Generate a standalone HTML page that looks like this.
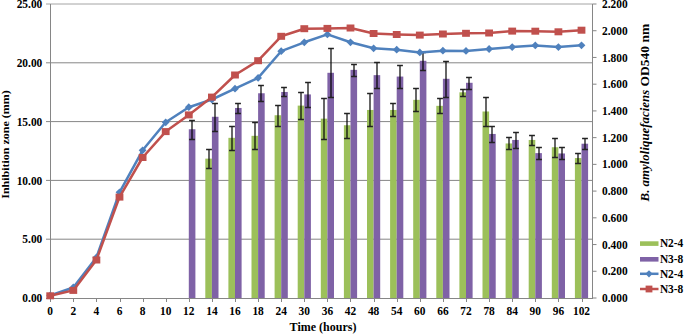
<!DOCTYPE html><html><head><meta charset="utf-8"><style>html,body{margin:0;padding:0;background:#fff;}svg{display:block;}text{font-family:"Liberation Serif",serif;font-weight:bold;fill:#000;}</style></head><body>
<svg width="685" height="334" viewBox="0 0 685 334">
<rect width="685" height="334" fill="#fff"/>
<line x1="46" y1="239.20" x2="592.5" y2="239.20" stroke="#868686" stroke-width="1"/>
<line x1="46" y1="180.40" x2="592.5" y2="180.40" stroke="#868686" stroke-width="1"/>
<line x1="46" y1="121.60" x2="592.5" y2="121.60" stroke="#868686" stroke-width="1"/>
<line x1="46" y1="62.80" x2="592.5" y2="62.80" stroke="#868686" stroke-width="1"/>
<line x1="46" y1="4.00" x2="592.5" y2="4.00" stroke="#a4a4a4" stroke-width="1"/>
<line x1="46" y1="298.50" x2="50.5" y2="298.50" stroke="#868686" stroke-width="1"/>
<rect x="188.80" y="129.24" width="6.6" height="168.76" fill="#7F62A6"/>
<rect x="205.30" y="158.64" width="6.6" height="139.36" fill="#9CC05A"/>
<rect x="211.90" y="116.78" width="6.6" height="181.22" fill="#7F62A6"/>
<rect x="228.40" y="137.83" width="6.6" height="160.17" fill="#9CC05A"/>
<rect x="235.00" y="107.96" width="6.6" height="190.04" fill="#7F62A6"/>
<rect x="251.50" y="135.83" width="6.6" height="162.17" fill="#9CC05A"/>
<rect x="258.10" y="93.26" width="6.6" height="204.74" fill="#7F62A6"/>
<rect x="274.60" y="115.25" width="6.6" height="182.75" fill="#9CC05A"/>
<rect x="281.20" y="91.96" width="6.6" height="206.04" fill="#7F62A6"/>
<rect x="297.70" y="105.61" width="6.6" height="192.39" fill="#9CC05A"/>
<rect x="304.30" y="94.43" width="6.6" height="203.57" fill="#7F62A6"/>
<rect x="320.80" y="118.66" width="6.6" height="179.34" fill="#9CC05A"/>
<rect x="327.40" y="72.80" width="6.6" height="225.20" fill="#7F62A6"/>
<rect x="343.90" y="125.25" width="6.6" height="172.75" fill="#9CC05A"/>
<rect x="350.50" y="69.86" width="6.6" height="228.14" fill="#7F62A6"/>
<rect x="367.00" y="109.96" width="6.6" height="188.04" fill="#9CC05A"/>
<rect x="373.60" y="75.15" width="6.6" height="222.85" fill="#7F62A6"/>
<rect x="390.10" y="109.96" width="6.6" height="188.04" fill="#9CC05A"/>
<rect x="396.70" y="76.56" width="6.6" height="221.44" fill="#7F62A6"/>
<rect x="413.20" y="99.84" width="6.6" height="198.16" fill="#9CC05A"/>
<rect x="419.80" y="60.80" width="6.6" height="237.20" fill="#7F62A6"/>
<rect x="436.30" y="105.84" width="6.6" height="192.16" fill="#9CC05A"/>
<rect x="442.90" y="78.79" width="6.6" height="219.21" fill="#7F62A6"/>
<rect x="459.40" y="92.32" width="6.6" height="205.68" fill="#9CC05A"/>
<rect x="466.00" y="82.79" width="6.6" height="215.21" fill="#7F62A6"/>
<rect x="482.50" y="111.49" width="6.6" height="186.51" fill="#9CC05A"/>
<rect x="489.10" y="133.95" width="6.6" height="164.05" fill="#7F62A6"/>
<rect x="505.60" y="143.47" width="6.6" height="154.53" fill="#9CC05A"/>
<rect x="512.20" y="139.95" width="6.6" height="158.05" fill="#7F62A6"/>
<rect x="528.70" y="139.95" width="6.6" height="158.05" fill="#9CC05A"/>
<rect x="535.30" y="153.12" width="6.6" height="144.88" fill="#7F62A6"/>
<rect x="551.80" y="147.24" width="6.6" height="150.76" fill="#9CC05A"/>
<rect x="558.40" y="153.47" width="6.6" height="144.53" fill="#7F62A6"/>
<rect x="574.90" y="158.06" width="6.6" height="139.94" fill="#9CC05A"/>
<rect x="581.50" y="143.71" width="6.6" height="154.29" fill="#7F62A6"/>
<path d="M192 120.50V139.50" stroke="#000" stroke-width="1.2" fill="none"/>
<path d="M189.10 120.50H194.90M189.10 139.50H194.90" stroke="#222" stroke-width="1.3" fill="none"/>
<path d="M209 149.50V168.50" stroke="#000" stroke-width="1.2" fill="none"/>
<path d="M206.10 149.50H211.90M206.10 168.50H211.90" stroke="#222" stroke-width="1.3" fill="none"/>
<path d="M215 103.50V131.50" stroke="#000" stroke-width="1.2" fill="none"/>
<path d="M212.10 103.50H217.90M212.10 131.50H217.90" stroke="#222" stroke-width="1.3" fill="none"/>
<path d="M232 126.50V150.50" stroke="#000" stroke-width="1.2" fill="none"/>
<path d="M229.10 126.50H234.90M229.10 150.50H234.90" stroke="#222" stroke-width="1.3" fill="none"/>
<path d="M238 103.50V113.50" stroke="#000" stroke-width="1.2" fill="none"/>
<path d="M235.10 103.50H240.90M235.10 113.50H240.90" stroke="#222" stroke-width="1.3" fill="none"/>
<path d="M255 122.50V149.50" stroke="#000" stroke-width="1.2" fill="none"/>
<path d="M252.10 122.50H257.90M252.10 149.50H257.90" stroke="#222" stroke-width="1.3" fill="none"/>
<path d="M261 85.50V101.50" stroke="#000" stroke-width="1.2" fill="none"/>
<path d="M258.10 85.50H263.90M258.10 101.50H263.90" stroke="#222" stroke-width="1.3" fill="none"/>
<path d="M278 105.50V126.50" stroke="#000" stroke-width="1.2" fill="none"/>
<path d="M275.10 105.50H280.90M275.10 126.50H280.90" stroke="#222" stroke-width="1.3" fill="none"/>
<path d="M284 87.50V96.50" stroke="#000" stroke-width="1.2" fill="none"/>
<path d="M281.10 87.50H286.90M281.10 96.50H286.90" stroke="#222" stroke-width="1.3" fill="none"/>
<path d="M301 92.50V119.50" stroke="#000" stroke-width="1.2" fill="none"/>
<path d="M298.10 92.50H303.90M298.10 119.50H303.90" stroke="#222" stroke-width="1.3" fill="none"/>
<path d="M308 82.50V107.50" stroke="#000" stroke-width="1.2" fill="none"/>
<path d="M305.10 82.50H310.90M305.10 107.50H310.90" stroke="#222" stroke-width="1.3" fill="none"/>
<path d="M324 98.50V139.50" stroke="#000" stroke-width="1.2" fill="none"/>
<path d="M321.10 98.50H326.90M321.10 139.50H326.90" stroke="#222" stroke-width="1.3" fill="none"/>
<path d="M331 48.50V97.50" stroke="#000" stroke-width="1.2" fill="none"/>
<path d="M328.10 48.50H333.90M328.10 97.50H333.90" stroke="#222" stroke-width="1.3" fill="none"/>
<path d="M347 113.50V138.50" stroke="#000" stroke-width="1.2" fill="none"/>
<path d="M344.10 113.50H349.90M344.10 138.50H349.90" stroke="#222" stroke-width="1.3" fill="none"/>
<path d="M354 64.50V76.50" stroke="#000" stroke-width="1.2" fill="none"/>
<path d="M351.10 64.50H356.90M351.10 76.50H356.90" stroke="#222" stroke-width="1.3" fill="none"/>
<path d="M370 93.50V126.50" stroke="#000" stroke-width="1.2" fill="none"/>
<path d="M367.10 93.50H372.90M367.10 126.50H372.90" stroke="#222" stroke-width="1.3" fill="none"/>
<path d="M377 62.50V88.50" stroke="#000" stroke-width="1.2" fill="none"/>
<path d="M374.10 62.50H379.90M374.10 88.50H379.90" stroke="#222" stroke-width="1.3" fill="none"/>
<path d="M393 103.50V116.50" stroke="#000" stroke-width="1.2" fill="none"/>
<path d="M390.10 103.50H395.90M390.10 116.50H395.90" stroke="#222" stroke-width="1.3" fill="none"/>
<path d="M400 65.50V88.50" stroke="#000" stroke-width="1.2" fill="none"/>
<path d="M397.10 65.50H402.90M397.10 88.50H402.90" stroke="#222" stroke-width="1.3" fill="none"/>
<path d="M416 88.50V111.50" stroke="#000" stroke-width="1.2" fill="none"/>
<path d="M413.10 88.50H418.90M413.10 111.50H418.90" stroke="#222" stroke-width="1.3" fill="none"/>
<path d="M423 52.50V70.50" stroke="#000" stroke-width="1.2" fill="none"/>
<path d="M420.10 52.50H425.90M420.10 70.50H425.90" stroke="#222" stroke-width="1.3" fill="none"/>
<path d="M440 98.50V113.50" stroke="#000" stroke-width="1.2" fill="none"/>
<path d="M437.10 98.50H442.90M437.10 113.50H442.90" stroke="#222" stroke-width="1.3" fill="none"/>
<path d="M446 61.50V97.50" stroke="#000" stroke-width="1.2" fill="none"/>
<path d="M443.10 61.50H448.90M443.10 97.50H448.90" stroke="#222" stroke-width="1.3" fill="none"/>
<path d="M463 89.50V96.50" stroke="#000" stroke-width="1.2" fill="none"/>
<path d="M460.10 89.50H465.90M460.10 96.50H465.90" stroke="#222" stroke-width="1.3" fill="none"/>
<path d="M469 77.50V89.50" stroke="#000" stroke-width="1.2" fill="none"/>
<path d="M466.10 77.50H471.90M466.10 89.50H471.90" stroke="#222" stroke-width="1.3" fill="none"/>
<path d="M486 97.50V126.50" stroke="#000" stroke-width="1.2" fill="none"/>
<path d="M483.10 97.50H488.90M483.10 126.50H488.90" stroke="#222" stroke-width="1.3" fill="none"/>
<path d="M492 126.50V142.50" stroke="#000" stroke-width="1.2" fill="none"/>
<path d="M489.10 126.50H494.90M489.10 142.50H494.90" stroke="#222" stroke-width="1.3" fill="none"/>
<path d="M509 137.50V149.50" stroke="#000" stroke-width="1.2" fill="none"/>
<path d="M506.10 137.50H511.90M506.10 149.50H511.90" stroke="#222" stroke-width="1.3" fill="none"/>
<path d="M516 132.50V148.50" stroke="#000" stroke-width="1.2" fill="none"/>
<path d="M513.10 132.50H518.90M513.10 148.50H518.90" stroke="#222" stroke-width="1.3" fill="none"/>
<path d="M532 135.50V145.50" stroke="#000" stroke-width="1.2" fill="none"/>
<path d="M529.10 135.50H534.90M529.10 145.50H534.90" stroke="#222" stroke-width="1.3" fill="none"/>
<path d="M539 147.50V159.50" stroke="#000" stroke-width="1.2" fill="none"/>
<path d="M536.10 147.50H541.90M536.10 159.50H541.90" stroke="#222" stroke-width="1.3" fill="none"/>
<path d="M555 138.50V157.50" stroke="#000" stroke-width="1.2" fill="none"/>
<path d="M552.10 138.50H557.90M552.10 157.50H557.90" stroke="#222" stroke-width="1.3" fill="none"/>
<path d="M562 147.50V159.50" stroke="#000" stroke-width="1.2" fill="none"/>
<path d="M559.10 147.50H564.90M559.10 159.50H564.90" stroke="#222" stroke-width="1.3" fill="none"/>
<path d="M578 153.50V163.50" stroke="#000" stroke-width="1.2" fill="none"/>
<path d="M575.10 153.50H580.90M575.10 163.50H580.90" stroke="#222" stroke-width="1.3" fill="none"/>
<path d="M585 138.50V149.50" stroke="#000" stroke-width="1.2" fill="none"/>
<path d="M582.10 138.50H587.90M582.10 149.50H587.90" stroke="#222" stroke-width="1.3" fill="none"/>
<line x1="50.5" y1="4.0" x2="50.5" y2="299.0" stroke="#868686" stroke-width="1"/>
<line x1="592.5" y1="4.0" x2="592.5" y2="299.0" stroke="#868686" stroke-width="1"/>
<line x1="50.0" y1="298.5" x2="593.0" y2="298.5" stroke="#868686" stroke-width="1"/>
<line x1="50.50" y1="298.5" x2="50.50" y2="302.0" stroke="#868686" stroke-width="1"/>
<line x1="73.50" y1="298.5" x2="73.50" y2="302.0" stroke="#868686" stroke-width="1"/>
<line x1="96.50" y1="298.5" x2="96.50" y2="302.0" stroke="#868686" stroke-width="1"/>
<line x1="120.50" y1="298.5" x2="120.50" y2="302.0" stroke="#868686" stroke-width="1"/>
<line x1="143.50" y1="298.5" x2="143.50" y2="302.0" stroke="#868686" stroke-width="1"/>
<line x1="166.50" y1="298.5" x2="166.50" y2="302.0" stroke="#868686" stroke-width="1"/>
<line x1="189.50" y1="298.5" x2="189.50" y2="302.0" stroke="#868686" stroke-width="1"/>
<line x1="212.50" y1="298.5" x2="212.50" y2="302.0" stroke="#868686" stroke-width="1"/>
<line x1="235.50" y1="298.5" x2="235.50" y2="302.0" stroke="#868686" stroke-width="1"/>
<line x1="258.50" y1="298.5" x2="258.50" y2="302.0" stroke="#868686" stroke-width="1"/>
<line x1="281.50" y1="298.5" x2="281.50" y2="302.0" stroke="#868686" stroke-width="1"/>
<line x1="304.50" y1="298.5" x2="304.50" y2="302.0" stroke="#868686" stroke-width="1"/>
<line x1="327.50" y1="298.5" x2="327.50" y2="302.0" stroke="#868686" stroke-width="1"/>
<line x1="350.50" y1="298.5" x2="350.50" y2="302.0" stroke="#868686" stroke-width="1"/>
<line x1="374.50" y1="298.5" x2="374.50" y2="302.0" stroke="#868686" stroke-width="1"/>
<line x1="397.50" y1="298.5" x2="397.50" y2="302.0" stroke="#868686" stroke-width="1"/>
<line x1="420.50" y1="298.5" x2="420.50" y2="302.0" stroke="#868686" stroke-width="1"/>
<line x1="443.50" y1="298.5" x2="443.50" y2="302.0" stroke="#868686" stroke-width="1"/>
<line x1="466.50" y1="298.5" x2="466.50" y2="302.0" stroke="#868686" stroke-width="1"/>
<line x1="489.50" y1="298.5" x2="489.50" y2="302.0" stroke="#868686" stroke-width="1"/>
<line x1="512.50" y1="298.5" x2="512.50" y2="302.0" stroke="#868686" stroke-width="1"/>
<line x1="535.50" y1="298.5" x2="535.50" y2="302.0" stroke="#868686" stroke-width="1"/>
<line x1="558.50" y1="298.5" x2="558.50" y2="302.0" stroke="#868686" stroke-width="1"/>
<line x1="582.50" y1="298.5" x2="582.50" y2="302.0" stroke="#868686" stroke-width="1"/>
<line x1="592.5" y1="298.00" x2="596.5" y2="298.00" stroke="#868686" stroke-width="1"/>
<line x1="592.5" y1="271.27" x2="596.5" y2="271.27" stroke="#868686" stroke-width="1"/>
<line x1="592.5" y1="244.55" x2="596.5" y2="244.55" stroke="#868686" stroke-width="1"/>
<line x1="592.5" y1="217.82" x2="596.5" y2="217.82" stroke="#868686" stroke-width="1"/>
<line x1="592.5" y1="191.09" x2="596.5" y2="191.09" stroke="#868686" stroke-width="1"/>
<line x1="592.5" y1="164.36" x2="596.5" y2="164.36" stroke="#868686" stroke-width="1"/>
<line x1="592.5" y1="137.64" x2="596.5" y2="137.64" stroke="#868686" stroke-width="1"/>
<line x1="592.5" y1="110.91" x2="596.5" y2="110.91" stroke="#868686" stroke-width="1"/>
<line x1="592.5" y1="84.18" x2="596.5" y2="84.18" stroke="#868686" stroke-width="1"/>
<line x1="592.5" y1="57.45" x2="596.5" y2="57.45" stroke="#868686" stroke-width="1"/>
<line x1="592.5" y1="30.73" x2="596.5" y2="30.73" stroke="#868686" stroke-width="1"/>
<line x1="592.5" y1="4.00" x2="596.5" y2="4.00" stroke="#868686" stroke-width="1"/>
<polyline points="50.20,295.50 73.30,287.50 96.40,257.50 119.50,192.30 142.60,150.30 165.70,122.30 188.80,107.20 211.90,99.50 235.00,88.70 258.10,77.90 281.20,51.20 304.30,42.30 327.40,34.40 350.50,42.30 373.60,48.30 396.70,49.70 419.80,52.40 442.90,50.70 466.00,50.90 489.10,49.00 512.20,47.10 535.30,45.40 558.40,47.10 581.50,45.30" fill="none" stroke="#4F81BD" stroke-width="2.5" stroke-linejoin="round"/>
<path d="M50.20 291.60L54.10 295.50L50.20 299.40L46.30 295.50Z" fill="#4F81BD"/>
<path d="M73.30 283.60L77.20 287.50L73.30 291.40L69.40 287.50Z" fill="#4F81BD"/>
<path d="M96.40 253.60L100.30 257.50L96.40 261.40L92.50 257.50Z" fill="#4F81BD"/>
<path d="M119.50 188.40L123.40 192.30L119.50 196.20L115.60 192.30Z" fill="#4F81BD"/>
<path d="M142.60 146.40L146.50 150.30L142.60 154.20L138.70 150.30Z" fill="#4F81BD"/>
<path d="M165.70 118.40L169.60 122.30L165.70 126.20L161.80 122.30Z" fill="#4F81BD"/>
<path d="M188.80 103.30L192.70 107.20L188.80 111.10L184.90 107.20Z" fill="#4F81BD"/>
<path d="M211.90 95.60L215.80 99.50L211.90 103.40L208.00 99.50Z" fill="#4F81BD"/>
<path d="M235.00 84.80L238.90 88.70L235.00 92.60L231.10 88.70Z" fill="#4F81BD"/>
<path d="M258.10 74.00L262.00 77.90L258.10 81.80L254.20 77.90Z" fill="#4F81BD"/>
<path d="M281.20 47.30L285.10 51.20L281.20 55.10L277.30 51.20Z" fill="#4F81BD"/>
<path d="M304.30 38.40L308.20 42.30L304.30 46.20L300.40 42.30Z" fill="#4F81BD"/>
<path d="M327.40 30.50L331.30 34.40L327.40 38.30L323.50 34.40Z" fill="#4F81BD"/>
<path d="M350.50 38.40L354.40 42.30L350.50 46.20L346.60 42.30Z" fill="#4F81BD"/>
<path d="M373.60 44.40L377.50 48.30L373.60 52.20L369.70 48.30Z" fill="#4F81BD"/>
<path d="M396.70 45.80L400.60 49.70L396.70 53.60L392.80 49.70Z" fill="#4F81BD"/>
<path d="M419.80 48.50L423.70 52.40L419.80 56.30L415.90 52.40Z" fill="#4F81BD"/>
<path d="M442.90 46.80L446.80 50.70L442.90 54.60L439.00 50.70Z" fill="#4F81BD"/>
<path d="M466.00 47.00L469.90 50.90L466.00 54.80L462.10 50.90Z" fill="#4F81BD"/>
<path d="M489.10 45.10L493.00 49.00L489.10 52.90L485.20 49.00Z" fill="#4F81BD"/>
<path d="M512.20 43.20L516.10 47.10L512.20 51.00L508.30 47.10Z" fill="#4F81BD"/>
<path d="M535.30 41.50L539.20 45.40L535.30 49.30L531.40 45.40Z" fill="#4F81BD"/>
<path d="M558.40 43.20L562.30 47.10L558.40 51.00L554.50 47.10Z" fill="#4F81BD"/>
<path d="M581.50 41.40L585.40 45.30L581.50 49.20L577.60 45.30Z" fill="#4F81BD"/>
<polyline points="50.20,295.80 73.30,290.40 96.40,260.00 119.50,197.10 142.60,157.50 165.70,131.60 188.80,114.90 211.90,97.10 235.00,75.00 258.10,60.70 281.20,36.30 304.30,28.70 327.40,28.40 350.50,28.00 373.60,33.50 396.70,34.50 419.80,35.10 442.90,34.00 466.00,33.30 489.10,33.00 512.20,31.10 535.30,31.20 558.40,31.80 581.50,30.20" fill="none" stroke="#C0504D" stroke-width="2.5" stroke-linejoin="round"/>
<rect x="46.30" y="292.30" width="7.8" height="7.0" fill="#C0504D"/>
<rect x="69.40" y="286.90" width="7.8" height="7.0" fill="#C0504D"/>
<rect x="92.50" y="256.50" width="7.8" height="7.0" fill="#C0504D"/>
<rect x="115.60" y="193.60" width="7.8" height="7.0" fill="#C0504D"/>
<rect x="138.70" y="154.00" width="7.8" height="7.0" fill="#C0504D"/>
<rect x="161.80" y="128.10" width="7.8" height="7.0" fill="#C0504D"/>
<rect x="184.90" y="111.40" width="7.8" height="7.0" fill="#C0504D"/>
<rect x="208.00" y="93.60" width="7.8" height="7.0" fill="#C0504D"/>
<rect x="231.10" y="71.50" width="7.8" height="7.0" fill="#C0504D"/>
<rect x="254.20" y="57.20" width="7.8" height="7.0" fill="#C0504D"/>
<rect x="277.30" y="32.80" width="7.8" height="7.0" fill="#C0504D"/>
<rect x="300.40" y="25.20" width="7.8" height="7.0" fill="#C0504D"/>
<rect x="323.50" y="24.90" width="7.8" height="7.0" fill="#C0504D"/>
<rect x="346.60" y="24.50" width="7.8" height="7.0" fill="#C0504D"/>
<rect x="369.70" y="30.00" width="7.8" height="7.0" fill="#C0504D"/>
<rect x="392.80" y="31.00" width="7.8" height="7.0" fill="#C0504D"/>
<rect x="415.90" y="31.60" width="7.8" height="7.0" fill="#C0504D"/>
<rect x="439.00" y="30.50" width="7.8" height="7.0" fill="#C0504D"/>
<rect x="462.10" y="29.80" width="7.8" height="7.0" fill="#C0504D"/>
<rect x="485.20" y="29.50" width="7.8" height="7.0" fill="#C0504D"/>
<rect x="508.30" y="27.60" width="7.8" height="7.0" fill="#C0504D"/>
<rect x="531.40" y="27.70" width="7.8" height="7.0" fill="#C0504D"/>
<rect x="554.50" y="28.30" width="7.8" height="7.0" fill="#C0504D"/>
<rect x="577.60" y="26.70" width="7.8" height="7.0" fill="#C0504D"/>
<text x="22.35" y="302.10" font-size="12" textLength="19.95" lengthAdjust="spacingAndGlyphs">0.00</text>
<text x="22.35" y="243.30" font-size="12" textLength="19.95" lengthAdjust="spacingAndGlyphs">5.00</text>
<text x="16.65" y="184.50" font-size="12" textLength="25.65" lengthAdjust="spacingAndGlyphs">10.00</text>
<text x="16.65" y="125.70" font-size="12" textLength="25.65" lengthAdjust="spacingAndGlyphs">15.00</text>
<text x="16.65" y="66.90" font-size="12" textLength="25.65" lengthAdjust="spacingAndGlyphs">20.00</text>
<text x="16.65" y="8.10" font-size="12" textLength="25.65" lengthAdjust="spacingAndGlyphs">25.00</text>
<text x="602" y="302.10" font-size="12" textLength="25.65" lengthAdjust="spacingAndGlyphs">0.000</text>
<text x="602" y="275.37" font-size="12" textLength="25.65" lengthAdjust="spacingAndGlyphs">0.200</text>
<text x="602" y="248.65" font-size="12" textLength="25.65" lengthAdjust="spacingAndGlyphs">0.400</text>
<text x="602" y="221.92" font-size="12" textLength="25.65" lengthAdjust="spacingAndGlyphs">0.600</text>
<text x="602" y="195.19" font-size="12" textLength="25.65" lengthAdjust="spacingAndGlyphs">0.800</text>
<text x="602" y="168.46" font-size="12" textLength="25.65" lengthAdjust="spacingAndGlyphs">1.000</text>
<text x="602" y="141.74" font-size="12" textLength="25.65" lengthAdjust="spacingAndGlyphs">1.200</text>
<text x="602" y="115.01" font-size="12" textLength="25.65" lengthAdjust="spacingAndGlyphs">1.400</text>
<text x="602" y="88.28" font-size="12" textLength="25.65" lengthAdjust="spacingAndGlyphs">1.600</text>
<text x="602" y="61.55" font-size="12" textLength="25.65" lengthAdjust="spacingAndGlyphs">1.800</text>
<text x="602" y="34.83" font-size="12" textLength="25.65" lengthAdjust="spacingAndGlyphs">2.000</text>
<text x="602" y="8.10" font-size="12" textLength="25.65" lengthAdjust="spacingAndGlyphs">2.200</text>
<text x="47.35" y="315.1" font-size="12" textLength="5.70" lengthAdjust="spacingAndGlyphs">0</text>
<text x="70.45" y="315.1" font-size="12" textLength="5.70" lengthAdjust="spacingAndGlyphs">2</text>
<text x="93.55" y="315.1" font-size="12" textLength="5.70" lengthAdjust="spacingAndGlyphs">4</text>
<text x="116.65" y="315.1" font-size="12" textLength="5.70" lengthAdjust="spacingAndGlyphs">6</text>
<text x="139.75" y="315.1" font-size="12" textLength="5.70" lengthAdjust="spacingAndGlyphs">8</text>
<text x="160.00" y="315.1" font-size="12" textLength="11.40" lengthAdjust="spacingAndGlyphs">10</text>
<text x="183.10" y="315.1" font-size="12" textLength="11.40" lengthAdjust="spacingAndGlyphs">12</text>
<text x="206.20" y="315.1" font-size="12" textLength="11.40" lengthAdjust="spacingAndGlyphs">14</text>
<text x="229.30" y="315.1" font-size="12" textLength="11.40" lengthAdjust="spacingAndGlyphs">16</text>
<text x="252.40" y="315.1" font-size="12" textLength="11.40" lengthAdjust="spacingAndGlyphs">18</text>
<text x="275.50" y="315.1" font-size="12" textLength="11.40" lengthAdjust="spacingAndGlyphs">24</text>
<text x="298.60" y="315.1" font-size="12" textLength="11.40" lengthAdjust="spacingAndGlyphs">30</text>
<text x="321.70" y="315.1" font-size="12" textLength="11.40" lengthAdjust="spacingAndGlyphs">36</text>
<text x="344.80" y="315.1" font-size="12" textLength="11.40" lengthAdjust="spacingAndGlyphs">42</text>
<text x="367.90" y="315.1" font-size="12" textLength="11.40" lengthAdjust="spacingAndGlyphs">48</text>
<text x="391.00" y="315.1" font-size="12" textLength="11.40" lengthAdjust="spacingAndGlyphs">54</text>
<text x="414.10" y="315.1" font-size="12" textLength="11.40" lengthAdjust="spacingAndGlyphs">60</text>
<text x="437.20" y="315.1" font-size="12" textLength="11.40" lengthAdjust="spacingAndGlyphs">66</text>
<text x="460.30" y="315.1" font-size="12" textLength="11.40" lengthAdjust="spacingAndGlyphs">72</text>
<text x="483.40" y="315.1" font-size="12" textLength="11.40" lengthAdjust="spacingAndGlyphs">78</text>
<text x="506.50" y="315.1" font-size="12" textLength="11.40" lengthAdjust="spacingAndGlyphs">84</text>
<text x="529.60" y="315.1" font-size="12" textLength="11.40" lengthAdjust="spacingAndGlyphs">90</text>
<text x="552.70" y="315.1" font-size="12" textLength="11.40" lengthAdjust="spacingAndGlyphs">96</text>
<text x="572.95" y="315.1" font-size="12" textLength="17.10" lengthAdjust="spacingAndGlyphs">102</text>
<text x="323" y="330.7" font-size="12" text-anchor="middle">Time (hours)</text>
<text transform="translate(9,144.5) rotate(-90) scale(1,0.93)" font-size="12" text-anchor="middle">Inhibition zone (mm)</text>
<text transform="translate(648.7,112.6) rotate(-90)" font-size="13.5" text-anchor="middle"><tspan font-style="italic" font-size="12.9">B. amyloliquefaciens</tspan> OD540 nm</text>
<rect x="640" y="241.30" width="18.5" height="4.6" fill="#9CC05A"/>
<rect x="640" y="257.00" width="18.5" height="4.6" fill="#7F62A6"/>
<line x1="640" y1="273.80" x2="658.5" y2="273.80" stroke="#4F81BD" stroke-width="2.5"/>
<path d="M649 270.20L652.6 273.80L649 277.40L645.4 273.80Z" fill="#4F81BD"/>
<line x1="640" y1="289.00" x2="658.5" y2="289.00" stroke="#C0504D" stroke-width="2.5"/>
<rect x="645.6" y="285.60" width="6.8" height="6.8" fill="#C0504D"/>
<text x="659.9" y="247.30" font-size="12" textLength="23.43" lengthAdjust="spacingAndGlyphs">N2-4</text>
<text x="659.9" y="263.00" font-size="12" textLength="23.43" lengthAdjust="spacingAndGlyphs">N3-8</text>
<text x="659.9" y="277.80" font-size="12" textLength="23.43" lengthAdjust="spacingAndGlyphs">N2-4</text>
<text x="659.9" y="293.00" font-size="12" textLength="23.43" lengthAdjust="spacingAndGlyphs">N3-8</text>
</svg></body></html>
